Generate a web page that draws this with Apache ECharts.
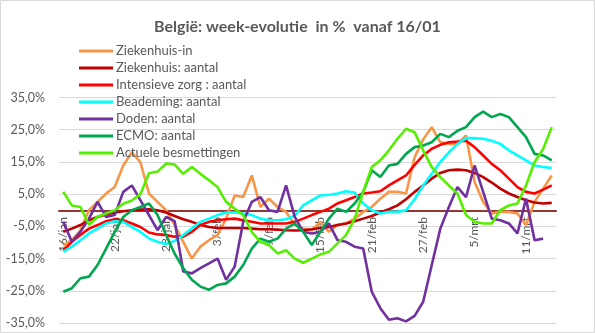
<!DOCTYPE html>
<html>
<head>
<meta charset="utf-8">
<script src="https://cdn.jsdelivr.net/npm/echarts@6/dist/echarts.min.js"></script>
<style>html,body{margin:0;padding:0;background:#fff}#c{width:595px;height:333px}</style>
</head>
<body>
<div id="c"></div>
<script>
const categories = ['16/jan','17/jan','18/jan','19/jan','20/jan','21/jan','22/jan','23/jan','24/jan','25/jan','26/jan','27/jan','28/jan','29/jan','30/jan','31/jan',
'1/feb','2/feb','3/feb','4/feb','5/feb','6/feb','7/feb','8/feb','9/feb','10/feb','11/feb','12/feb','13/feb','14/feb','15/feb','16/feb','17/feb','18/feb','19/feb','20/feb','21/feb','22/feb','23/feb','24/feb','25/feb','26/feb','27/feb','28/feb',
'1/mrt','2/mrt','3/mrt','4/mrt','5/mrt','6/mrt','7/mrt','8/mrt','9/mrt','10/mrt','11/mrt','12/mrt','13/mrt','14/mrt'];

const ziekenhuisIn = [-11,-9.3,-6.2,0,2.6,5.2,7.2,13.9,18,14.9,5.2,2.6,0,-4.6,
  -9.8,-15,-11.3,-9.3,-7.7,-2.6,4.6,4.1,10.8,1,3.6,1,-0.5,-4.5,
  -5.7,-6.2,-3.6,-6.7,-4.6,-4.1,-2.6,-0.5,1,3.6,5.7,5.7,5.2,16.5,
  22,25.8,21.1,20.6,20.6,23.2,8.8,2.6,-1,-0.5,-0.5,-1,-4.6,2.6,6.7,10.8];
const ziekenhuisAantal = [-6.7,-5.7,-4.6,-3.1,-2.1,-1.3,-0.7,-0.3,0,0.2,0.3,0,-0.7,-1.8,
  -2.8,-3.6,-4.6,-5.2,-5.5,-5.5,-5.5,-5.5,-5.7,-5.9,-5.9,-6,-6.2,-6.3,
  -6.2,-5.9,-5.5,-5.2,-4.6,-4.1,-3.4,-2.6,-1.8,-0.7,0.3,1.5,3.4,5.7,
  7.7,9.8,11.6,12.4,12.6,12.4,11.6,10.3,8.6,6.7,5.2,4.1,3.1,2.4,2.1,2.3];
const intensieveZorg = [-12.4,-9.8,-7.7,-5.7,-4.6,-3.4,-2.8,-3.1,-4.1,-5.2,-6.9,-7.5,-7.7,-8.2,
  -8.2,-6.7,-4.6,-3.6,-3.1,-2.8,-2.6,-3.1,-3.6,-4.1,-4.1,-4.1,-4.1,-3.6,
  -2.6,-1.5,-0.5,0.5,2.1,3.1,4.1,5.2,5.5,5.9,7.7,9.3,10.8,14.1,
  17,19.1,20.3,21.1,21.3,21.6,19.6,17,14.4,12.4,9.8,7.2,5.7,5.2,6.4,7.7];
const beademing = [-12.9,-11.3,-9.3,-7.2,-5.7,-4.1,-3.4,-3.6,-5.2,-6.7,-8.8,-9.8,-10.5,-9.5,
  -7.7,-5.7,-3.6,-2.6,-1.5,-0.7,-0.7,-1,-1.5,-2.6,-3.1,-3.1,-2.8,-1.7,
  1.5,3.1,4.6,4.8,5.2,5.9,5.5,2.1,0,-1,-0.5,-0.5,0,3.4,
  7.7,11.3,15,18,20.6,22.4,22.4,22.2,21.6,20.6,18.6,17,15.5,13.9,13.4,13.1];
const doden = [-3.6,-9.8,-6.7,-2.6,2.6,-2.1,-1.5,5.7,7.7,3.1,-1.5,-6.2,-2.1,-3.4,
  -19,-19.6,-18,-16.5,-15,-21.6,-17.5,-3.6,2.6,4.1,0,-0.5,7.7,-2,
  -6.7,-7.2,-6.7,-4.1,-9.3,-9.8,-11.3,-11.9,-25.3,-30.4,-34,-33.5,-34.5,-32.8,
  -28.4,-17,-5.7,1,7.2,4.1,13.9,5.7,-2.6,-3.1,-4.1,-7.2,3.6,-9.3,-8.8,null];
const ecmo = [-25.3,-24.2,-21.1,-20.6,-17,-11.9,-6.7,-2.1,0,1,2.1,-1.5,-7.7,-13.5,
  -18,-21.6,-23.7,-24.7,-23.2,-22.7,-20.6,-17,-11.9,-8.8,-9.8,-8.8,-5.7,-4.1,
  -6.7,-10.8,-6.7,-2.6,0.5,-0.5,2.1,5.7,12.4,10.3,13.9,14.4,17.5,19.6,
  20.1,21.1,23.7,22.7,24.7,25.8,28.9,30.6,28.9,29.9,28.9,25.8,22.7,17.5,17,15.5];
const actueleBesmettingen = [5.7,1.5,1,-4.5,-2,-1,0,2,3,5,11.5,12,14.5,14.2,
  11.3,13.4,11.3,9.3,7.2,2.6,0.5,-1.5,-6.7,-9.8,-10.8,-13.4,-12.4,-15,
  -16.3,-15,-13.7,-12.9,-10.3,-7.7,-2.6,5.7,13.4,15.5,18.6,22.2,25.3,24.2,
  18.6,13.4,10.3,7.7,5.2,-1.5,-3.6,-4.1,-4.1,0,1.5,2.1,7.7,15,19,25.8];

const seriesNames = ['Ziekenhuis-in','Ziekenhuis: aantal','Intensieve zorg : aantal','Beademing: aantal','Doden: aantal','ECMO: aantal','Actuele besmettingen'];
const seriesData = [ziekenhuisIn, ziekenhuisAantal, intensieveZorg, beademing, doden, ecmo, actueleBesmettingen];
const seriesColors = ['#F79646','#C00000','#FF0000','#00FFFF','#7030A0','#00A650','#55F000'];

const font = 'Lato, "Liberation Sans", sans-serif';

const chart = echarts.init(document.getElementById('c'), null, {renderer:'canvas'});
chart.setOption({
  animation:false,
  backgroundColor:'#fff',
  title:{text:'België: week-evolutie  in %  vanaf 16/01', left:'center', top:14,
    textStyle:{fontFamily:font, fontSize:16, fontWeight:'bold', color:'#595959'}},
  graphic:[{type:'rect', shape:{x:0.5,y:0.5,width:594,height:332}, style:{fill:'none', stroke:'#D9D9D9', lineWidth:1}, silent:true}],
  legend:{orient:'vertical', left:74, top:39, itemWidth:34, itemHeight:3, itemGap:3, icon:'rect',
    textStyle:{fontFamily:font, fontSize:13, color:'#595959', lineHeight:14, padding:[0,0,0,-2]},
    data:seriesNames},
  grid:{left:59, right:39, top:97.5, bottom:10, containLabel:false, outerBoundsMode:'none'},
  xAxis:{type:'category', data:categories, boundaryGap:true,
    axisLine:{onZero:true, lineStyle:{color:'#943634', width:2}},
    axisTick:{show:false},
    axisLabel:{interval:5, rotate:90, margin:-106, fontFamily:font, fontSize:12, color:'#595959'},
    splitLine:{show:false}},
  yAxis:{type:'value', min:-35, max:35, interval:10,
    axisLine:{show:false}, axisTick:{show:false},
    splitLine:{lineStyle:{color:'#D9D9D9', width:1}},
    axisLabel:{margin:14, fontFamily:font, fontSize:12.5, color:'#595959',
      formatter:v => v.toFixed(1).replace('.', ',') + '%'}},
  series: seriesNames.map((n,i)=>({name:n, type:'line', data:seriesData[i], showSymbol:false, symbol:'none',
    color:seriesColors[i], lineStyle:{width:2.6, color:seriesColors[i]}, z:2+i}))
});
</script>
</body>
</html>
